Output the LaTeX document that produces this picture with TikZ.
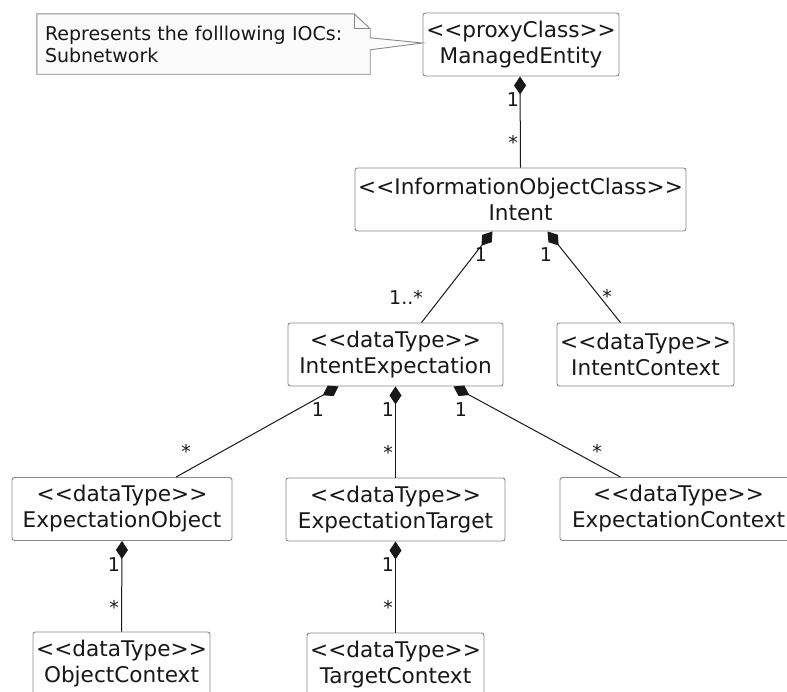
\documentclass[tikz,border=0pt]{standalone}
\usepackage{fontspec}
\setmainfont{DejaVu Sans}
\usetikzlibrary{arrows.meta, positioning, calc}
\definecolor{boxgray}{RGB}{136,136,136}
\definecolor{notebg}{RGB}{251,251,251}
\definecolor{inkcol}{RGB}{24,24,24}
\newcommand{\stereo}[1]{<{}<#1>{}>}
\tikzset{
  classbox/.style={
    rectangle, draw=boxgray, fill=white, line width=0.9pt,
    rounded corners=2.5pt, minimum height=63pt, inner xsep=3pt,
    align=center, text=inkcol, font=\fontsize{21.6}{26}\selectfont
  },
  notebox/.style={
    rectangle, inner xsep=8pt, text width=317pt, minimum height=60pt,
    align=left, text=inkcol, font=\fontsize{19}{22}\selectfont
  },
  mult/.style={inner sep=0pt, text=inkcol, font=\fontsize{19}{22}\selectfont},
  comp/.style={{Diamond[length=18pt, width=12pt]}-, line width=1pt, inkcol},
  noteline/.style={draw=boxgray, line width=0.9pt},
}

\begin{document}
\begin{tikzpicture}[x=1pt, y=-1pt]
		\useasboundingbox (0,0) rectangle (787,691);

		%% Classes
		\node[classbox, minimum width=196pt] (me)     at (521,44.5)
		{\stereo{proxyClass}\\ManagedEntity};
		\node[classbox, minimum width=331pt] (intent) at (520.5,199.5)
		{\stereo{InformationObjectClass}\\Intent};
		\node[classbox, minimum width=215pt] (iexp)   at (395.5,354.5)
		{\stereo{dataType}\\IntentExpectation};
		\node[classbox, minimum width=177pt] (ictx)   at (645.5,354.5)
		{\stereo{dataType}\\IntentContext};
		\node[classbox, minimum width=220pt] (eobj)   at (122,509)
		{\stereo{dataType}\\ExpectationObject};
		\node[classbox, minimum width=219pt] (etgt)   at (395.5,509.5)
		{\stereo{dataType}\\ExpectationTarget};
		\node[classbox, minimum width=237pt] (ectx)   at (678.5,509)
		{\stereo{dataType}\\ExpectationContext};
		\node[classbox, minimum width=177pt] (octx)   at (121.5,663.5)
		{\stereo{dataType}\\ObjectContext};
		\node[classbox, minimum width=177pt] (tctx)   at (395.5,664.5)
		{\stereo{dataType}\\TargetContext};

		%% Note
		\node[notebox] (note) at (203.5,44)
		{Represents the folllowing IOCs:\\Subnetwork};
		\filldraw[noteline, fill=notebg]
		(note.north west) -- ([xshift=-16pt]note.north east)
		-- ([yshift=-15pt]note.north east) -- ([yshift=-24pt]note.north east)
		-- ([yshift=1.5pt]me.west) -- ([yshift=-36pt]note.north east)
		-- (note.south east) -- (note.south west) -- cycle;
		\draw[noteline] ([xshift=-16pt]note.north east)
		-- ([xshift=-16pt, yshift=-15pt]note.north east)
		-- ([yshift=-15pt]note.north east);
		\node[notebox] at (note) {Represents the folllowing IOCs:\\Subnetwork};

		%% Compositions
		\foreach \src/\sdx/\dst/\ddx in {me/-1/intent/0, intent/-28/iexp/26,
				intent/27/ictx/-25, iexp/-57/eobj/54, iexp/0/etgt/0,
				iexp/58/ectx/-58, eobj/0/octx/0, etgt/0/tctx/0}
		\draw[comp] ([xshift=\sdx pt]\src.south) -- ([xshift=\ddx pt]\dst.north);

		%% Multiplicities
		\foreach \n/\x/\y/\t in {a/513/100/1, b/513/142/*, c/481/255/1,
				d/406/297/1..*, e/546/255/1, f/607/296/*, g/318/410/1,
				h/186/451/*, i/388/410/1, j/388/452/*, k/461/410/1,
				l/597/451/*, m/114/565/1, n/114/607/*, o/388/565/1, p/388/607/*}
		\node[mult] (mult\n) at (\x,\y) {\t};

	\end{tikzpicture}
\end{document}
